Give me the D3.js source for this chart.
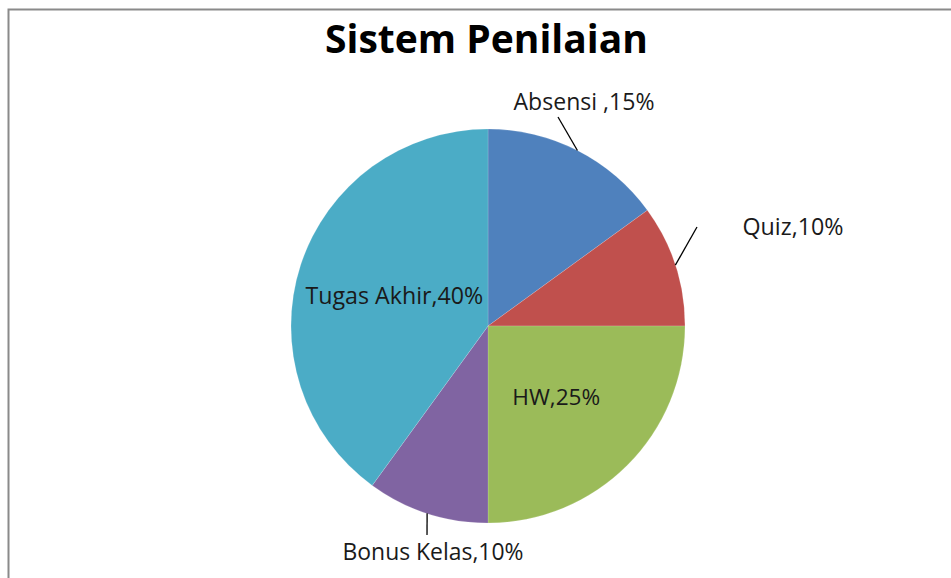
<!DOCTYPE html>
<html><head><meta charset="utf-8">
<script src="https://cdn.jsdelivr.net/npm/d3@7"></script>
<style>html,body{margin:0;padding:0;background:#fff;}svg{display:block;}</style>
</head><body>
<script>
const title = "Sistem Penilaian";
const categories = ["Absensi ", "Quiz", "HW", "Bonus Kelas", "Tugas Akhir"];
const values = [15, 10, 25, 10, 40];
const colors = ["#4F81BD", "#C0504D", "#9BBB59", "#8064A2", "#4BACC6"];

const W = 951, H = 578;
const cx = 488, cy = 326, R = 197;
const svg = d3.select("body").append("svg").attr("width", W).attr("height", H);

svg.append("rect").attr("x", 8.5).attr("y", 9.5).attr("width", 1000).attr("height", 1000)
  .attr("fill", "#fff").attr("stroke", "#8a8a8a").attr("stroke-width", 2);

const pie = d3.pie().sort(null).value(d => d)(values);
const arc = d3.arc().innerRadius(0).outerRadius(R);
const g = svg.append("g").attr("transform", `translate(${cx},${cy})`);
g.selectAll("path").data(pie).join("path")
  .attr("d", arc).attr("fill", (d, i) => colors[i])
  .attr("stroke", "rgba(255,255,255,0.25)").attr("stroke-width", 0.6);

// label layout: outside labels with leader lines, or inside labels
const layout = [
  {out: true, lx: 70, ly: -209, tx: 96, ty: -216.5, w: 141},
  {out: true, lx: 209, ly: -99, tx: 305, ty: -91, w: 101},
  {out: false, rf: 0.49, dy: 11, w: 88},
  {out: true, lx: -61, ly: 209, tx: -55, ty: 234, w: 181},
  {out: false, rf: 0.5, dy: 8, w: 178}
];
const fontFam = "'Open Sans', 'Noto Sans', sans-serif";
function fit(sel, target, base) {
  const len = sel.node().getComputedTextLength();
  sel.attr("font-size", base * target / len);
}
pie.forEach((d, i) => {
  const L = layout[i];
  const a = (d.startAngle + d.endAngle) / 2;
  const label = categories[i] + "," + values[i] + "%";
  let tx, ty;
  if (L.out) {
    const px = R * Math.sin(a), py = -R * Math.cos(a);
    g.append("line").attr("x1", px).attr("y1", py).attr("x2", L.lx).attr("y2", L.ly)
      .attr("stroke", "#000").attr("stroke-width", 1.3);
    tx = L.tx; ty = L.ty;
  } else {
    tx = L.rf * R * Math.sin(a); ty = -L.rf * R * Math.cos(a) + L.dy;
  }
  const t = g.append("text").attr("x", tx).attr("y", ty)
    .attr("text-anchor", "middle")
    .attr("font-family", fontFam).attr("font-size", 20).attr("fill", "#1a1a1a")
    .text(label);
  fit(t, L.w, 20);
});

const tt = svg.append("text").attr("x", 486.5).attr("y", 53)
  .attr("text-anchor", "middle").attr("font-family", fontFam).attr("font-weight", "bold")
  .attr("font-size", 36).attr("fill", "#000").text(title);
fit(tt, 323, 36);
</script>
</body></html>
